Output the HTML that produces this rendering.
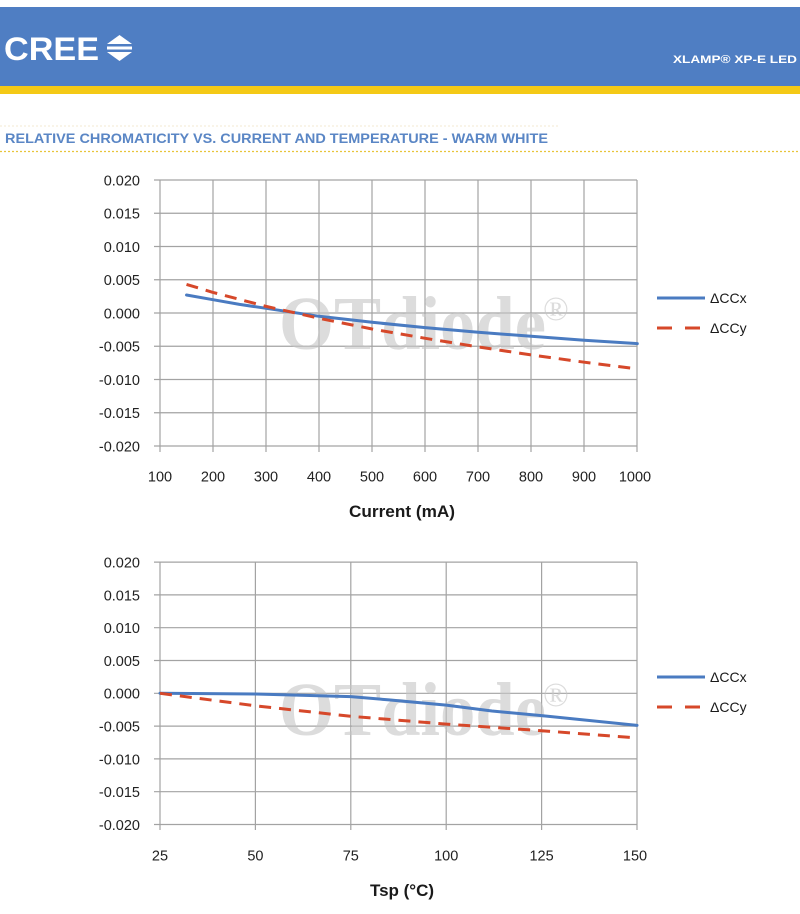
<!DOCTYPE html>
<html><head><meta charset="utf-8"><style>
html,body{margin:0;padding:0;background:#fff;}
svg{display:block;}
text{font-family:"Liberation Sans",Arial,sans-serif;}
text.wm{font-family:"Liberation Serif","DejaVu Serif",serif;}
</style></head><body>
<svg width="800" height="914" viewBox="0 0 800 914" xmlns="http://www.w3.org/2000/svg">
<!-- header -->
<rect x="0" y="0" width="800" height="8" fill="#fff"/>
<rect x="0" y="7" width="800" height="79" fill="#4f7ec3"/>
<rect x="0" y="86" width="800" height="8" fill="#f4c916"/>
<text x="4" y="60" font-size="32" font-weight="bold" fill="#fff" textLength="95" lengthAdjust="spacingAndGlyphs">CREE</text>
<polygon points="107,44 119.5,35 132,44" fill="#fff"/>
<rect x="107" y="46.5" width="25" height="3" fill="#fff"/>
<polygon points="107,52 119.5,61 132,52" fill="#fff"/>
<text x="797" y="63" font-size="11" font-weight="bold" fill="#fff" text-anchor="end" textLength="124" lengthAdjust="spacingAndGlyphs">XLAMP® XP-E LED</text>
<!-- title -->
<line x1="0" y1="126" x2="560" y2="126" stroke="#f3ead0" stroke-width="1" stroke-dasharray="2,2"/>
<text x="5" y="143" font-size="13.5" font-weight="bold" fill="#5a86c5" textLength="543" lengthAdjust="spacingAndGlyphs">RELATIVE CHROMATICITY VS. CURRENT AND TEMPERATURE - WARM WHITE</text>
<line x1="0" y1="151.5" x2="800" y2="151.5" stroke="#e8c43a" stroke-width="1.2" stroke-dasharray="2,2"/>

<!-- ===== Chart 1 ===== -->
<g stroke="#a3a3a3" stroke-width="1.2" fill="none">
  <line x1="154" y1="180" x2="637" y2="180"/>
  <line x1="154" y1="213.25" x2="637" y2="213.25"/>
  <line x1="154" y1="246.5" x2="637" y2="246.5"/>
  <line x1="154" y1="279.75" x2="637" y2="279.75"/>
  <line x1="154" y1="313" x2="637" y2="313"/>
  <line x1="154" y1="346.25" x2="637" y2="346.25"/>
  <line x1="154" y1="379.5" x2="637" y2="379.5"/>
  <line x1="154" y1="412.75" x2="637" y2="412.75"/>
  <line x1="154" y1="446" x2="637" y2="446"/>
  <line x1="160" y1="180" x2="160" y2="452"/>
  <line x1="213" y1="180" x2="213" y2="452"/>
  <line x1="266" y1="180" x2="266" y2="452"/>
  <line x1="319" y1="180" x2="319" y2="452"/>
  <line x1="372" y1="180" x2="372" y2="452"/>
  <line x1="425" y1="180" x2="425" y2="452"/>
  <line x1="478" y1="180" x2="478" y2="452"/>
  <line x1="531" y1="180" x2="531" y2="452"/>
  <line x1="584" y1="180" x2="584" y2="452"/>
  <line x1="637" y1="180" x2="637" y2="452"/>
</g>
<g font-size="14.5" fill="#222" text-anchor="end">
  <text x="140" y="185.5">0.020</text>
  <text x="140" y="218.7">0.015</text>
  <text x="140" y="252">0.010</text>
  <text x="140" y="285.2">0.005</text>
  <text x="140" y="318.5">0.000</text>
  <text x="140" y="351.7">-0.005</text>
  <text x="140" y="385">-0.010</text>
  <text x="140" y="418.2">-0.015</text>
  <text x="140" y="451.5">-0.020</text>
</g>
<g font-size="14.5" fill="#222" text-anchor="middle">
  <text x="160" y="481.5">100</text>
  <text x="213" y="481.5">200</text>
  <text x="266" y="481.5">300</text>
  <text x="319" y="481.5">400</text>
  <text x="372" y="481.5">500</text>
  <text x="425" y="481.5">600</text>
  <text x="478" y="481.5">700</text>
  <text x="531" y="481.5">800</text>
  <text x="584" y="481.5">900</text>
  <text x="635" y="481.5">1000</text>
</g>
<text x="402" y="517" font-size="17" font-weight="bold" fill="#1a1a1a" text-anchor="middle" textLength="106" lengthAdjust="spacingAndGlyphs">Current (mA)</text>

<!-- watermark 1 -->
<text class="wm" x="279" y="349" font-size="76" font-weight="bold" fill="#c4c4c4" fill-opacity="0.6" textLength="267" lengthAdjust="spacingAndGlyphs">OTdiode</text>
<text class="wm" x="543" y="320" font-size="34" fill="#c4c4c4" fill-opacity="0.6">®</text>

<polyline fill="none" stroke="#4a7bc1" stroke-width="3" stroke-linejoin="round" stroke-linecap="round"
 points="186.5,295 213,299.7 239.5,304.4 266.1,308.3 292.6,312.3 319.1,316.3 372.1,322.3 425.2,327.6 478.2,332.3 531.2,336.3 584.2,340.3 637.3,343.6"/>
<polyline fill="none" stroke="#d6482a" stroke-width="3" stroke-dasharray="12,8" stroke-linejoin="round"
 points="186.5,284.4 213,292.4 266.1,306.4 319.1,318.3 372.1,329 425.2,338.3 478.2,346.9 531.2,354.9 584.2,362.2 637.3,368.9"/>

<!-- legend 1 -->
<line x1="657" y1="298" x2="705" y2="298" stroke="#4a7bc1" stroke-width="3"/>
<line x1="657" y1="328" x2="672" y2="328" stroke="#d6482a" stroke-width="3"/>
<line x1="685" y1="328" x2="700" y2="328" stroke="#d6482a" stroke-width="3"/>
<text x="710" y="303" font-size="14" fill="#1a1a1a">ΔCCx</text>
<text x="710" y="333" font-size="14" fill="#1a1a1a">ΔCCy</text>

<!-- ===== Chart 2 ===== -->
<g stroke="#a3a3a3" stroke-width="1.2" fill="none">
  <line x1="154" y1="562.1" x2="637" y2="562.1"/>
  <line x1="154" y1="594.9" x2="637" y2="594.9"/>
  <line x1="154" y1="627.7" x2="637" y2="627.7"/>
  <line x1="154" y1="660.5" x2="637" y2="660.5"/>
  <line x1="154" y1="693.3" x2="637" y2="693.3"/>
  <line x1="154" y1="726.1" x2="637" y2="726.1"/>
  <line x1="154" y1="758.9" x2="637" y2="758.9"/>
  <line x1="154" y1="791.7" x2="637" y2="791.7"/>
  <line x1="154" y1="824.5" x2="637" y2="824.5"/>
  <line x1="160" y1="562" x2="160" y2="830"/>
  <line x1="255.4" y1="562" x2="255.4" y2="830"/>
  <line x1="350.8" y1="562" x2="350.8" y2="830"/>
  <line x1="446.2" y1="562" x2="446.2" y2="830"/>
  <line x1="541.6" y1="562" x2="541.6" y2="830"/>
  <line x1="637" y1="562" x2="637" y2="830"/>
</g>
<g font-size="14.5" fill="#222" text-anchor="end">
  <text x="140" y="567.5">0.020</text>
  <text x="140" y="600.3">0.015</text>
  <text x="140" y="633.1">0.010</text>
  <text x="140" y="665.9">0.005</text>
  <text x="140" y="698.7">0.000</text>
  <text x="140" y="731.5">-0.005</text>
  <text x="140" y="764.3">-0.010</text>
  <text x="140" y="797.1">-0.015</text>
  <text x="140" y="829.9">-0.020</text>
</g>
<g font-size="14.5" fill="#222" text-anchor="middle">
  <text x="160" y="860.5">25</text>
  <text x="255.4" y="860.5">50</text>
  <text x="350.8" y="860.5">75</text>
  <text x="446.2" y="860.5">100</text>
  <text x="541.6" y="860.5">125</text>
  <text x="635" y="860.5">150</text>
</g>
<text x="402" y="896" font-size="17" font-weight="bold" fill="#1a1a1a" text-anchor="middle">Tsp (°C)</text>

<!-- watermark 2 -->
<text class="wm" x="279" y="735" font-size="76" font-weight="bold" fill="#c4c4c4" fill-opacity="0.6" textLength="267" lengthAdjust="spacingAndGlyphs">OTdiode</text>
<text class="wm" x="543" y="706" font-size="34" fill="#c4c4c4" fill-opacity="0.6">®</text>

<polyline fill="none" stroke="#4a7bc1" stroke-width="3" stroke-linejoin="round" stroke-linecap="round"
 points="160,693.3 255.4,694 350.8,696.6 389,699.9 446.2,705.1 492,711 541.6,715.6 637,725.4"/>
<polyline fill="none" stroke="#d6482a" stroke-width="3" stroke-dasharray="12,8" stroke-linejoin="round"
 points="160,693.3 255.4,705.8 350.8,716.3 446.2,724.1 541.6,730.7 637,737.9"/>

<!-- legend 2 -->
<line x1="657" y1="677" x2="705" y2="677" stroke="#4a7bc1" stroke-width="3"/>
<line x1="657" y1="707" x2="672" y2="707" stroke="#d6482a" stroke-width="3"/>
<line x1="685" y1="707" x2="700" y2="707" stroke="#d6482a" stroke-width="3"/>
<text x="710" y="682" font-size="14" fill="#1a1a1a">ΔCCx</text>
<text x="710" y="712" font-size="14" fill="#1a1a1a">ΔCCy</text>
</svg>
</body></html>
